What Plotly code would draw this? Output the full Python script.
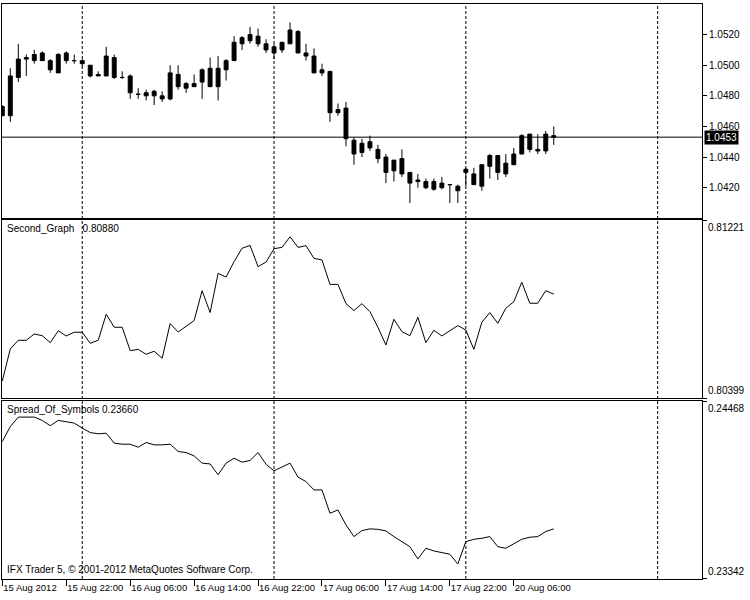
import pandas as pd
import plotly.graph_objects as go

# H1 bars
opens = [1.0473, 1.0467, 1.0492, 1.0504, 1.0503, 1.0508, 1.0503, 1.0495, 1.0508, 1.0503,
         1.0503, 1.0500, 1.0493, 1.0493, 1.0505, 1.0492, 1.0493, 1.0481, 1.0482, 1.0480,
         1.0480, 1.0478, 1.0494, 1.0485, 1.0488, 1.0489, 1.0498, 1.0486, 1.0497, 1.0503,
         1.0514, 1.0516, 1.0519, 1.0514, 1.0512, 1.0510, 1.0514, 1.0522, 1.0508, 1.0506,
         1.0497, 1.0496, 1.0469, 1.0472, 1.0451, 1.0443, 1.0450, 1.0445, 1.0440, 1.0431,
         1.0439, 1.0430, 1.0424, 1.0424, 1.0419, 1.0423, 1.0422, 1.0421, 1.0430, 1.0429,
         1.0421, 1.0434, 1.0441, 1.0429, 1.0435, 1.0442, 1.0455, 1.0444, 1.0444, 1.0454]
highs = [1.0474, 1.0498, 1.0514, 1.0507, 1.0510, 1.0509, 1.0504, 1.0508, 1.0509, 1.0507,
         1.0504, 1.0500, 1.0496, 1.0512, 1.0507, 1.0496, 1.0494, 1.0485, 1.0484, 1.0484,
         1.0483, 1.0500, 1.0500, 1.0489, 1.0494, 1.0498, 1.0505, 1.0506, 1.0504, 1.0519,
         1.0519, 1.0525, 1.0524, 1.0517, 1.0514, 1.0515, 1.0528, 1.0523, 1.0514, 1.0511,
         1.0501, 1.0496, 1.0475, 1.0476, 1.0453, 1.0452, 1.0454, 1.0448, 1.0442, 1.0438,
         1.0445, 1.0430, 1.0429, 1.0426, 1.0426, 1.0427, 1.0422, 1.0422, 1.0433, 1.0433,
         1.0435, 1.0442, 1.0441, 1.0442, 1.0446, 1.0455, 1.0455, 1.0455, 1.0457, 1.0460]
lows = [1.0467, 1.0463, 1.0489, 1.0493, 1.0501, 1.0503, 1.0495, 1.0495, 1.0501, 1.0501,
        1.0499, 1.0492, 1.0493, 1.0493, 1.0491, 1.0491, 1.0478, 1.0478, 1.0477, 1.0474,
        1.0476, 1.0477, 1.0484, 1.0482, 1.0486, 1.0478, 1.0486, 1.0477, 1.0490, 1.0503,
        1.0510, 1.0514, 1.0512, 1.0508, 1.0504, 1.0508, 1.0514, 1.0508, 1.0503, 1.0495,
        1.0493, 1.0463, 1.0467, 1.0447, 1.0435, 1.0440, 1.0444, 1.0436, 1.0423, 1.0424,
        1.0427, 1.0410, 1.0420, 1.0419, 1.0418, 1.0419, 1.0410, 1.0410, 1.0421, 1.0422,
        1.0418, 1.0426, 1.0425, 1.0427, 1.0435, 1.0442, 1.0443, 1.0442, 1.0442, 1.0448]
closes = [1.0467, 1.0493, 1.0504, 1.0505, 1.0507, 1.0503, 1.0497, 1.0507, 1.0503, 1.0503,
          1.0501, 1.0493, 1.0494, 1.0506, 1.0492, 1.0492, 1.0482, 1.0481, 1.0480, 1.0483,
          1.0478, 1.0495, 1.0486, 1.0488, 1.0486, 1.0497, 1.0486, 1.0498, 1.0503, 1.0515,
          1.0518, 1.0520, 1.0514, 1.0510, 1.0508, 1.0515, 1.0523, 1.0508, 1.0506, 1.0495,
          1.0495, 1.0469, 1.0471, 1.0452, 1.0442, 1.0449, 1.0446, 1.0439, 1.0430, 1.0438,
          1.0429, 1.0423, 1.0425, 1.0420, 1.0424, 1.0420, 1.0422, 1.0418, 1.0432, 1.0422,
          1.0435, 1.0441, 1.0430, 1.0436, 1.0442, 1.0454, 1.0445, 1.0445, 1.0455, 1.0453]

second_graph = [0.80479, 0.80627, 0.80667, 0.80667, 0.80696, 0.80688, 0.80656, 0.80711, 0.80687, 0.80704,
                0.80704, 0.80653, 0.80667, 0.80787, 0.80727, 0.80727, 0.80619, 0.80625, 0.80602, 0.80616,
                0.80584, 0.80744, 0.80705, 0.80733, 0.80758, 0.80896, 0.80795, 0.80976, 0.80959, 0.81030,
                0.81092, 0.81105, 0.81007, 0.81028, 0.81090, 0.81096, 0.81145, 0.81096, 0.81104, 0.81045,
                0.81038, 0.80925, 0.80925, 0.80836, 0.80804, 0.80836, 0.80799, 0.80727, 0.80645, 0.80764,
                0.80707, 0.80688, 0.80773, 0.80656, 0.80713, 0.80687, 0.80710, 0.80735, 0.80714, 0.80625,
                0.80750, 0.80795, 0.80745, 0.80815, 0.80845, 0.80935, 0.80838, 0.80838, 0.80896, 0.80880]
second_range = [0.80399, 0.81221]

spread_of_symbols = [0.24214, 0.24309, 0.24369, 0.24369, 0.24369, 0.24348, 0.24314, 0.24348, 0.24339, 0.24331,
                     0.24299, 0.24271, 0.24263, 0.24267, 0.24204, 0.24197, 0.24197, 0.24178, 0.24208, 0.24193,
                     0.24193, 0.24197, 0.24151, 0.24144, 0.24123, 0.24077, 0.24072, 0.24003, 0.24077, 0.24108,
                     0.24083, 0.24094, 0.24144, 0.24070, 0.24028, 0.24051, 0.24077, 0.23988, 0.23960, 0.23907,
                     0.23907, 0.23759, 0.23780, 0.23685, 0.23611, 0.23649, 0.23660, 0.23657, 0.23647, 0.23611,
                     0.23579, 0.23547, 0.23469, 0.23537, 0.23520, 0.23509, 0.23499, 0.23437, 0.23579, 0.23594,
                     0.23600, 0.23611, 0.23547, 0.23537, 0.23564, 0.23594, 0.23607, 0.23611, 0.23643, 0.23660]
spread_range = [0.23342, 0.24468]

tick_labels = ["15 Aug 2012", "15 Aug 22:00", "16 Aug 06:00", "16 Aug 14:00", "16 Aug 22:00",
               "17 Aug 06:00", "17 Aug 14:00", "17 Aug 22:00", "20 Aug 06:00"]
price_ticks = [1.0420, 1.0440, 1.0460, 1.0480, 1.0500, 1.0520]
price_range = [1.0400, 1.0540]

# hourly bar times without the weekend, used for the day separators
hours = pd.date_range("2012-08-15 14:00", "2012-08-21 12:00", freq="h")
hours = hours[hours.dayofweek < 5]
bars = list(range(len(closes)))
xmax = 87.55

fnt = "Liberation Sans"

fig = go.Figure()
fig.add_trace(go.Candlestick(x=bars, open=opens, high=highs, low=lows, close=closes,
                             increasing=dict(line=dict(color="black", width=1), fillcolor="black"),
                             decreasing=dict(line=dict(color="black", width=1), fillcolor="black"),
                             whiskerwidth=0, xaxis="x", yaxis="y"))
fig.add_trace(go.Scatter(x=bars, y=second_graph, mode="lines", line=dict(color="black", width=1),
                         xaxis="x2", yaxis="y2"))
fig.add_trace(go.Scatter(x=bars, y=spread_of_symbols, mode="lines", line=dict(color="black", width=1),
                         xaxis="x3", yaxis="y3"))

# day separators
for i, t in enumerate(hours):
    if t.hour == 0 and i <= xmax:
        fig.add_shape(type="line", xref="x", yref="paper", x0=i, x1=i, y0=0, y1=1,
                      line=dict(color="black", width=1, dash="3px,2px"), layer="below")

# last price line
fig.add_shape(type="line", xref="paper", yref="y", x0=0, x1=1, y0=closes[-1], y1=closes[-1],
              line=dict(color="black", width=1))

ax = dict(showline=True, mirror=True, linecolor="black", linewidth=1, showgrid=False,
          zeroline=False, fixedrange=True, automargin=False)
xa = dict(ax, range=[-0.04, xmax])
fig.update_layout(
    width=750, height=600,
    margin=dict(l=2, r=48, t=4, b=21, autoexpand=False),
    paper_bgcolor="white", plot_bgcolor="white", showlegend=False,
    font=dict(family=fnt, size=10, color="black"),
    xaxis=dict(xa, anchor="y", showticklabels=False, ticks="", rangeslider=dict(visible=False)),
    xaxis2=dict(xa, anchor="y2", showticklabels=False, ticks=""),
    xaxis3=dict(xa, anchor="y3", tickmode="array",
                tickvals=[8 * i for i in range(len(tick_labels))], ticktext=tick_labels,
                tickangle=0, ticks="outside", ticklen=6, tickcolor="black",
                ticklabelposition="outside right", tickfont=dict(size=9.5)),
    yaxis=dict(ax, domain=[0.6273, 1.0], range=price_range, side="right", tickmode="array",
               tickvals=price_ticks, tickformat=".4f", ticks="outside", ticklen=4, tickcolor="black"),
    yaxis2=dict(ax, domain=[0.3143, 0.6238], range=second_range, side="right", tickmode="array",
                tickvals=second_range, showticklabels=False, ticks="outside", ticklen=4, tickcolor="black"),
    yaxis3=dict(ax, domain=[0.0, 0.3087], range=spread_range, side="right", tickmode="array",
                tickvals=spread_range, showticklabels=False, ticks="outside", ticklen=4, tickcolor="black"),
)

ann = []
# current price tag
ann.append(dict(x=1, xref="paper", y=closes[-1], yref="y", xanchor="left", yanchor="middle",
                xshift=2, text=f"{closes[-1]:.4f}", showarrow=False, bgcolor="black",
                font=dict(color="white", size=10, family=fnt), borderpad=1))
# indicator min/max scale labels
for rng, yr in [(second_range, "y2"), (spread_range, "y3")]:
    ann.append(dict(x=1, xref="paper", y=rng[1], yref=yr, xanchor="left", yanchor="top",
                    xshift=4, text=f"{rng[1]:.5f}", showarrow=False))
    ann.append(dict(x=1, xref="paper", y=rng[0], yref=yr, xanchor="left", yanchor="bottom",
                    xshift=4, text=f"{rng[0]:.5f}", showarrow=False))
# indicator names
ann.append(dict(x=0, xref="paper", y=second_range[1], yref="y2", xanchor="left", yanchor="top",
                xshift=3, yshift=-1, showarrow=False,
                text="Second_Graph\u00a0\u00a0\u00a0" + f"{second_graph[-1]:.5f}"))
ann.append(dict(x=0, xref="paper", y=spread_range[1], yref="y3", xanchor="left", yanchor="top",
                xshift=3, yshift=-1, showarrow=False,
                text="Spread_Of_Symbols " + f"{spread_of_symbols[-1]:.5f}"))
ann.append(dict(x=0, xref="paper", y=0, yref="paper", xanchor="left", yanchor="bottom",
                xshift=3, yshift=2, showarrow=False,
                text="IFX Trader 5, \u00a9 2001-2012 MetaQuotes Software Corp."))
fig.update_layout(annotations=ann)

# the page's default body margin would shift the 750x600 figure off the window
fig.write_html("out.html", config={"displayModeBar": False},
               post_script="document.body.style.margin='0';document.body.style.overflow='hidden';")
